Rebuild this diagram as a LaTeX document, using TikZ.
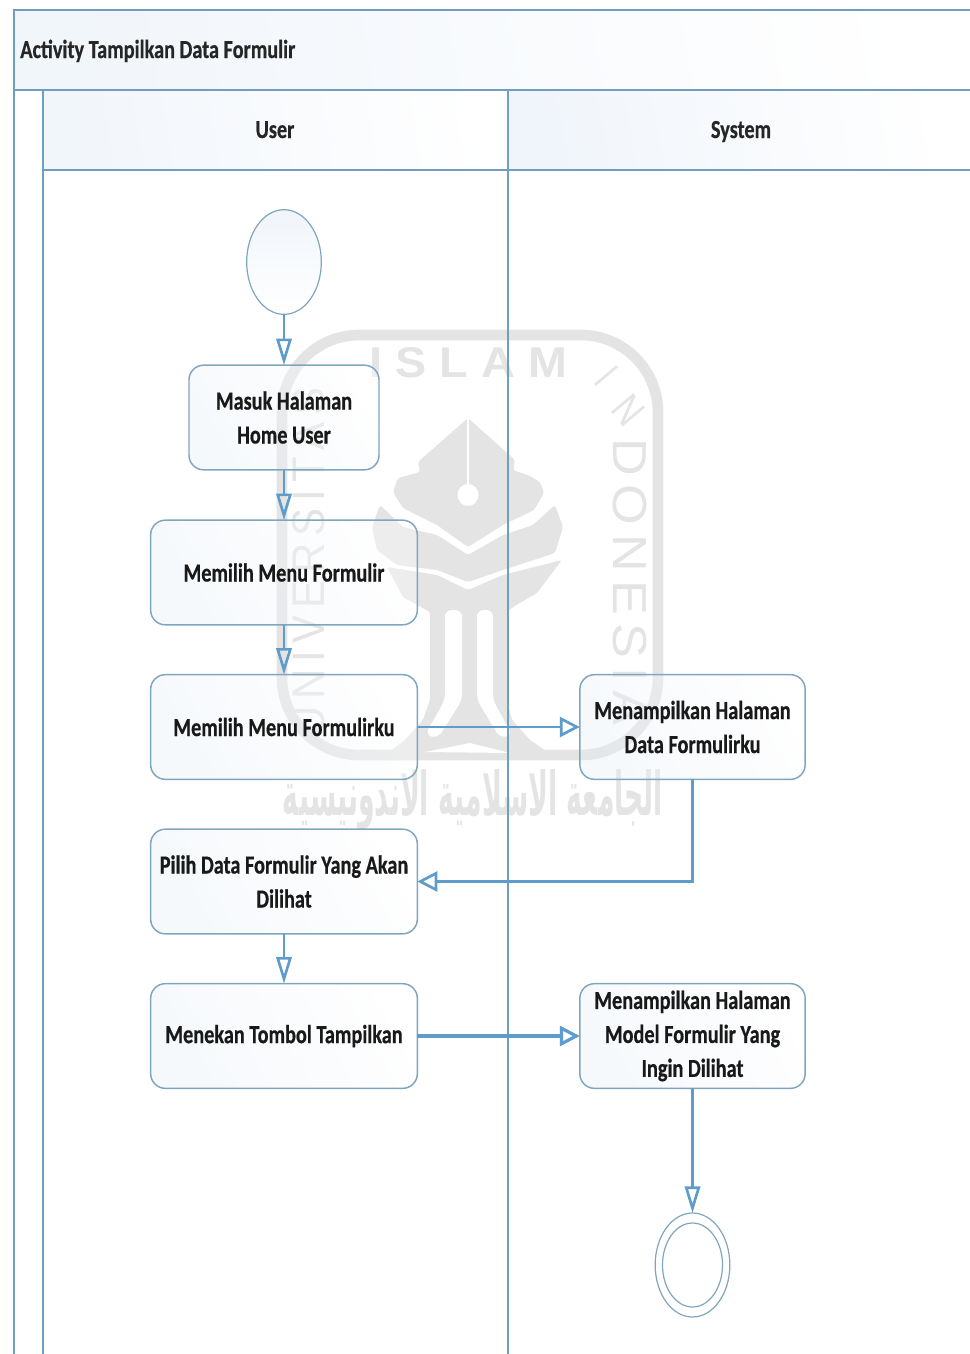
\documentclass[tikz,border=0pt]{standalone}
\usepackage{fontspec}
\usepackage{graphicx}
\setmainfont{Carlito}[FakeStretch=0.78,BoldFeatures={FakeStretch=0.78,FakeBold=0.5}]
\newfontfamily\wmfont{Liberation Sans}
\newfontfamily\wmarabic[Script=Arabic]{DejaVu Sans}
\TeXXeTstate=1
\usetikzlibrary{arrows.meta,shapes.geometric}
\definecolor{lane}{HTML}{6F9FBC}
\definecolor{boxline}{HTML}{7FA6BE}
\definecolor{flow}{HTML}{5E9CCB}
\definecolor{tint}{HTML}{E6EEF8}
\definecolor{wm}{HTML}{E4E4E4}
\tikzset{
  lanebar/.style={draw=lane,line width=1.5pt},
  headtext/.style={font=\bfseries\fontsize{19.5}{25.5}\selectfont,text=black!85,anchor=base},
  actbox/.style={draw=boxline,line width=1.1pt,rounded corners=11pt,inner sep=0pt,outer sep=0pt,
    left color=tint,right color=white,shading angle=120,fill opacity=.35,text opacity=1,draw opacity=1,align=center,
    font=\bfseries\fontsize{19.5}{25.5}\selectfont,text=black!90},
  wide/.style={actbox,minimum width=200pt,minimum height=78.5pt},
  mid/.style={actbox,minimum width=169pt,minimum height=78.5pt},
  narrow/.style={actbox,minimum width=142.5pt,minimum height=78.5pt},
  startnode/.style={draw=boxline,line width=.9pt,inner sep=0pt,outer sep=0pt,
    top color=tint!60,bottom color=white},
  vflow/.style={draw=flow,line width=2pt,-{Triangle[open,length=20pt,width=11.5pt]}},
  hflow/.style={draw=flow,line width=2pt,-{Triangle[open,length=15pt,width=15pt]}},
  wmtext/.style={inner sep=0pt,outer sep=0pt,text=wm},
  wmshape/.style={fill=wm,rounded corners=2pt},
}
\begin{document}
\begin{tikzpicture}[x=.75pt,y=-.75pt]
\useasboundingbox (0,0) rectangle (970,1354);
\fill[white] (0,0) rectangle (970,1354);
% pool and lanes
\shade[left color=tint!55,right color=white,shading angle=100] (14,10) rectangle (970,90);
\shade[left color=tint!55,right color=white,shading angle=100] (43,90) rectangle (508,170);
\shade[left color=tint!60,right color=white,shading angle=100] (508,90) rectangle (970,170);
% watermark, under everything else
\draw[wm,line width=8pt,rounded corners=58pt] (282,755) -- (282,335) -- (658,335) -- (658,755) -- cycle;
\node[wmtext] (wmislam) at (468.5,363) {\resizebox{148pt}{22.5pt}{\wmfont\bfseries I S L A M}};
\node[wmtext,rotate=90] (wmuni) at (309,562) {\resizebox{262pt}{24pt}{\wmfont U\,N\,I\,V\,E\,R\,S\,I\,T\,A\,S}};
\node[wmtext,rotate=-90] (wmindo) at (630,582) {\resizebox{215pt}{25pt}{\wmfont D\,O\,N\,E\,S\,I\,A}};
\node[wmtext,rotate=-50] (wmn) at (628,410) {\resizebox{18pt}{22pt}{\wmfont N}};
\node[wmtext,rotate=-50] (wmi) at (606,376) {\resizebox{4pt}{22pt}{\wmfont\bfseries I}};
\node[wmtext] (wmarab) at (473,800) {\resizebox{285pt}{34.5pt}{\wmarabic\bfseries\beginR الجامعة الاسلامية الاندونيسية\endR}};
\fill[wmshape] (468,418) -- (515,460) -- (513,470) -- (530,476) -- (540,482) -- (544,493) -- (534,510) -- (503,525) -- (468,547)
  -- (437,525) -- (403,508) -- (393,492) -- (398,478) -- (420,472) -- (418,462) -- cycle;
\fill[wmshape] (380,505) -- (403,527) -- (437,535) -- (468,555) -- (503,535) -- (533,525) -- (555,505) -- (563,527) -- (555,553)
  -- (503,570) -- (468,582) -- (437,570) -- (397,565) -- (377,550) -- (372,527) -- cycle;
\fill[wmshape] (387,567) -- (437,575) -- (468,590) -- (503,575) -- (562,560) -- (537,593) -- (513,607) -- (507,612) -- (507,700)
  -- (512,720) -- (530,740) -- (552,755) -- (385,755) -- (405,740) -- (423,720) -- (430,700) -- (430,612) -- (403,597) -- cycle;
\draw[white,line width=2pt] (468,418) -- (468,490);
\fill[white] (468,495) ellipse[x radius=10.5,y radius=11];
\fill[white,rounded corners=5pt] (445,610) -- (462,610) -- (462,700) -- (438,738) -- (425,735) -- (445,700) -- cycle;
\fill[white,rounded corners=5pt] (477,610) -- (493,610) -- (493,700) -- (512,735) -- (500,738) -- (477,700) -- cycle;
\fill[white] (425,752) -- (470,743) -- (510,753) -- cycle;
% lanes
\draw[lanebar] (970,10) -- (14,10) -- (14,1354);
\draw[lanebar] (14,90) -- (970,90);
\draw[lanebar] (43,170) -- (970,170);
\draw[lanebar] (43,90) -- (43,1354);
\draw[lanebar] (508,90) -- (508,1354);
\node[headtext,anchor=base west,inner sep=0pt] (title) at (20,58) {Activity Tampilkan Data Formulir};
\node[headtext] (userhead) at (275,138) {User};
\node[headtext] (syshead) at (741,138) {System};
% activities
\node[startnode,ellipse,minimum width=56pt,minimum height=78.5pt] (start) at (284,262) {};
\node[narrow] (masuk) at (284,417.5) {Masuk Halaman\\Home User};
\node[wide] (menu) at (284,572.5) {Memilih Menu Formulir};
\node[wide] (formku) at (284,727) {Memilih Menu Formulirku};
\node[wide] (pilih) at (284,881.5) {Pilih Data Formulir Yang Akan\\Dilihat};
\node[wide] (tekan) at (284,1036) {Menekan Tombol Tampilkan};
\node[mid] (hal) at (692.5,727) {Menampilkan Halaman\\Data Formulirku};
\node[mid] (model) at (692.5,1036) {\raisebox{-1.5pt}{Menampilkan Halaman}\\\raisebox{-1.5pt}{Model Formulir Yang}\\\raisebox{-1.5pt}{Ingin Dilihat}};
\node[startnode,ellipse,minimum width=56pt,minimum height=78pt,top color=white] (end) at (692.5,1265) {};
\node[draw=boxline,line width=.9pt,ellipse,inner sep=0pt,minimum width=45pt,minimum height=63pt] (endin) at (692.5,1265) {};
% flows
\draw[vflow] (start) -- (masuk);
\draw[vflow] (masuk) -- (menu);
\draw[vflow] (menu) -- (formku);
\draw[hflow] (formku) -- (hal);
\draw[hflow] (hal.south) |- (pilih.east);
\draw[vflow] (pilih) -- (tekan);
\draw[hflow,line width=2.4pt] (tekan) -- (model);
\draw[vflow] (model) -- (end);
\end{tikzpicture}
\end{document}
